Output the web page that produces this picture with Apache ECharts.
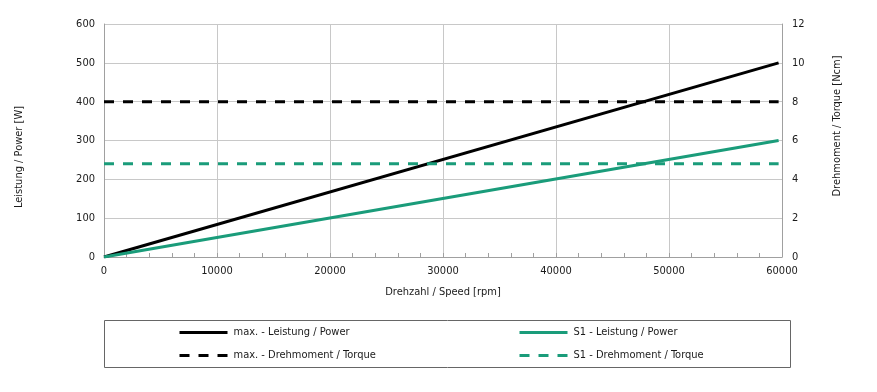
<!DOCTYPE html>
<html>
<head>
<meta charset="utf-8">
<script src="https://cdn.jsdelivr.net/npm/echarts@6/dist/echarts.min.js"></script>
<style>html,body{margin:0;padding:0;background:#fff}#c{width:877px;height:392px}</style>
</head>
<body>
<div id="c"></div>
<script>
const speed = [0, 59700];
const maxPower = [0, 500];      // W
const s1Power = [0, 300];       // W
const maxTorque = [8, 8];       // Ncm
const s1Torque = [4.8, 4.8];    // Ncm
const names = ['max. - Leistung / Power', 'S1 - Leistung / Power', 'max. - Drehmoment / Torque', 'S1 - Drehmoment / Torque'];
const xTitle = 'Drehzahl / Speed [rpm]';
const yLeftTitle = 'Leistung / Power [W]';
const yRightTitle = 'Drehmoment / Torque [Ncm]';

const BLACK = '#000000', GREEN = '#1a9c7a';
const FONT = 'DejaVu Sans Condensed';
const pairs = (xs, ys) => xs.map((x, i) => [x, ys[i]]);

const chart = echarts.init(document.getElementById('c'));
const lineS = (name, data, color, dashed, yi) => ({
  name, type: 'line', data: pairs(speed, data), yAxisIndex: yi,
  symbol: 'none', showSymbol: false, animation: false,
  lineStyle: { color, width: 3, type: dashed ? [10, 9] : 'solid' },
  itemStyle: { color }
});
const legendCommon = {
  orient: 'vertical', top: 322, itemWidth: 48, itemHeight: 10, itemGap: 12,
  itemStyle: { opacity: 0 }, lineStyle: { width: 3 },
  textStyle: { fontFamily: FONT, fontSize: 11, color: '#1a1a1a', padding: [0, 0, 0, 1] }, selectedMode: false
};
chart.setOption({
  animation: false,
  textStyle: { fontFamily: FONT },
  grid: { left: 104, right: 95, top: 24, bottom: 135 },
  xAxis: {
    type: 'value', min: 0, max: 60000, interval: 10000,
    name: xTitle, nameLocation: 'middle', nameGap: 30,
    nameTextStyle: { fontFamily: FONT, fontSize: 11, color: '#1a1a1a' },
    axisLine: { show: true, lineStyle: { color: '#a0a0a0', width: 1 } },
    axisTick: { show: true, inside: true, length: 4, lineStyle: { color: '#a0a0a0' } },
    minorTick: { show: true, splitNumber: 5, length: 4, lineStyle: { color: '#a0a0a0' } },
    axisLabel: { fontFamily: FONT, fontSize: 11, color: '#1a1a1a', margin: 9, formatter: v => String(v) },
    splitLine: { show: true, lineStyle: { color: '#c8c8c8', width: 1 } }
  },
  yAxis: [
    {
      type: 'value', min: 0, max: 600, interval: 100, position: 'left',
      axisLine: { show: true, lineStyle: { color: '#a0a0a0', width: 1 } },
      axisTick: { show: false },
      axisLabel: { fontFamily: FONT, fontSize: 11, color: '#1a1a1a', margin: 9 },
      splitLine: { show: true, lineStyle: { color: '#c8c8c8', width: 1 } }
    },
    {
      type: 'value', min: 0, max: 12, interval: 2, position: 'right',
      axisLine: { show: true, lineStyle: { color: '#a0a0a0', width: 1 } },
      axisTick: { show: false },
      axisLabel: { fontFamily: FONT, fontSize: 11, color: '#1a1a1a', margin: 10 },
      splitLine: { show: false }
    }
  ],
  legend: [
    Object.assign({ data: [names[0], names[2]], left: 173 }, legendCommon),
    Object.assign({ data: [names[1], names[3]], left: 513 }, legendCommon)
  ],
  graphic: [
    { type: 'rect', shape: { x: 104.5, y: 320.5, width: 686, height: 47 }, style: { fill: 'none', stroke: '#666', lineWidth: 1 }, z: -1 },
    { type: 'text', x: 19, y: 157, rotation: Math.PI / 2,
      style: { text: yLeftTitle, fontFamily: FONT, fontSize: 11, fill: '#1a1a1a', textAlign: 'center', textVerticalAlign: 'middle' } },
    { type: 'text', x: 837, y: 126, rotation: Math.PI / 2,
      style: { text: yRightTitle, fontFamily: FONT, fontSize: 11, fill: '#1a1a1a', textAlign: 'center', textVerticalAlign: 'middle' } }
  ],
  series: [
    lineS(names[0], maxPower, BLACK, false, 0),
    lineS(names[1], s1Power, GREEN, false, 0),
    lineS(names[2], maxTorque, BLACK, true, 1),
    lineS(names[3], s1Torque, GREEN, true, 1)
  ]
});
</script>
</body>
</html>
